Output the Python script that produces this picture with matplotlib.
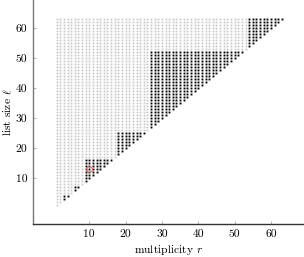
import matplotlib
matplotlib.use("Agg")
import matplotlib.pyplot as plt
import numpy as np

plt.rcParams['mathtext.fontset'] = 'cm'
plt.rcParams['font.family'] = ['cmr10', 'DejaVu Serif']
plt.rcParams['axes.formatter.use_mathtext'] = True

# grid extent
r_max = 63
l_max = 63
# black blocks: r and l in [lo, hi] with r <= l
block_lo = [3, 6, 9, 18, 27, 54]
block_hi = [4, 7, 16, 25, 52, 63]
# highlighted point
mark_r = [10]
mark_l = [13]

xticks = [10, 20, 30, 40, 50, 60]
yticks = [10, 20, 30, 40, 50, 60]

gray_r, gray_l, blk_r, blk_l = [], [], [], []
for r in range(1, r_max + 1):
    for l in range(r, l_max + 1):
        inblock = any(lo <= r and l <= hi for lo, hi in zip(block_lo, block_hi))
        if inblock:
            blk_r.append(r); blk_l.append(l)
        else:
            gray_r.append(r); gray_l.append(l)

fig = plt.figure(figsize=(3.04, 2.57), dpi=100)
ax = fig.add_axes([33/304, 33/257, 1 - 33/304, 1 - 33/257])
ax.plot(gray_r, gray_l, 's', ms=1.25, mew=0, color='#c8c8c8')
ax.plot(blk_r, blk_l, 's', ms=1.35, mew=0, color='#000000')
ax.plot(mark_r, mark_l, 'o', ms=4.2, mfc='none', mec='#e05050', mew=0.6)

ax.set_xlim(-5.5, 69.1)
ax.set_ylim(-5.33, 69.3)
for s in ['top', 'right']:
    ax.spines[s].set_visible(False)
ax.spines['left'].set_color('#777777')
ax.spines['bottom'].set_color('#333333')
ax.spines['left'].set_linewidth(1.0)
ax.spines['bottom'].set_linewidth(1.0)
ax.set_xticks(xticks)
ax.set_yticks(yticks)
ax.set_xticklabels([str(v) for v in xticks])
ax.set_yticklabels([str(v) for v in yticks])
ax.tick_params(direction='in', length=2.5, width=0.5, color='#999999',
               labelsize=8.3, pad=4)
ax.set_xlabel(r'multiplicity $r$', fontsize=8.3, labelpad=3)
ax.set_ylabel(r'list size $\ell$', fontsize=8.3)
ax.yaxis.set_label_coords(-19/271, 0.5)

fig.savefig('out.png', dpi=100)
